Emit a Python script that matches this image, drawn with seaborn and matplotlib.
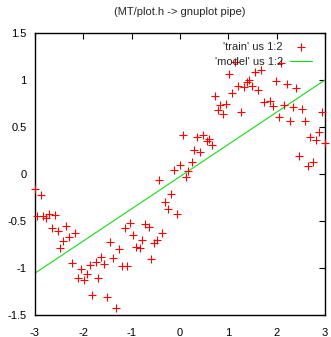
import matplotlib
matplotlib.use("Agg")
import matplotlib.pyplot as plt
import seaborn as sns
import pandas as pd

train_x = [-3.0, -2.882, -2.952, -2.828, -2.779, -2.704, -2.586, -2.642, -2.524, -2.352,
           -2.166, -2.290, -2.414, -2.477, -2.228, -2.048, -2.104, -1.986, -1.918, -1.862,
           -1.744, -1.634, -1.572, -1.690, -1.821, -1.504, -1.324, -1.448, -1.380, -1.262,
           -1.206, -1.097, -1.138, -1.028, -0.966, -0.724, -0.641, -0.780, -0.910, -0.834,
           -0.476, -0.538, -0.366, -0.600, -0.428, -0.180, -0.304, -0.242, -0.062, -0.124,
           0.0, 0.172, 0.124, 0.238, 0.290, 0.414, 0.056, 0.352, 0.476, 0.552,
           0.600, 0.662, 0.724, 0.776, 0.832, 0.896, 0.956, 1.086, 1.196, 1.018,
           1.138, 1.258, 1.320, 1.380, 1.432, 1.494, 1.548, 1.624, 1.682, 2.086,
           1.982, 2.214, 2.396, 1.738, 1.858, 1.920, 2.040, 2.148, 2.342, 2.514,
           2.280, 2.580, 2.948, 2.880, 2.694, 2.810, 3.0, 2.462, 2.642, 2.756]
train_y = [-0.160, -0.223, -0.444, -0.444, -0.465, -0.422, -0.439, -0.578, -0.610, -0.556,
           -0.628, -0.673, -0.716, -0.790, -0.944, -1.014, -1.110, -1.124, -1.061, -0.965,
           -0.936, -0.886, -0.957, -1.103, -1.284, -1.312, -1.426, -0.723, -0.894, -0.795,
           -0.982, -0.976, -0.574, -0.524, -0.649, -0.532, -0.564, -0.705, -0.777, -0.790,
           -0.702, -0.734, -0.628, -0.907, -0.067, -0.213, -0.301, -0.369, -0.426, 0.043,
           0.093, 0.032, -0.029, 0.128, 0.252, 0.237, 0.418, 0.390, 0.420, 0.351,
           0.370, 0.311, 0.835, 0.679, 0.732, 0.638, 0.745, 0.864, 0.936, 1.067,
           1.195, 0.662, 0.922, 0.976, 1.005, 0.931, 1.082, 0.891, 1.104, 1.176,
           0.993, 0.955, 0.912, 0.768, 0.779, 0.723, 0.609, 0.736, 0.713, 0.688,
           0.569, 0.569, 0.657, 0.450, 0.394, 0.359, 0.330, 0.194, 0.082, 0.128]

model_x = [-3.0, 3.0]
model_y = [-1.055, 1.0]

title = "(MT/plot.h -> gnuplot pipe)"
train_label = "'train' us 1:2"
model_label = "'model' us 1:2"
x_ticks = [-3, -2, -1, 0, 1, 2, 3]
y_ticks = [-1.5, -1, -0.5, 0, 0.5, 1, 1.5]
y_tick_labels = ["-1.5", "-1", "-0.5", "0", "0.5", "1", "1.5"]

sns.set_theme(style="white")
plt.rcParams['font.family'] = ['Liberation Sans', 'DejaVu Sans']

fig = plt.figure(figsize=(3.31, 3.37), dpi=100)
ax = fig.add_axes([35/331, 1 - 315/337, 290/331, 282/337])

train = pd.DataFrame({"x": train_x, "y": train_y})
model = pd.DataFrame({"x": model_x, "y": model_y})

sns.scatterplot(data=train, x="x", y="y", ax=ax, marker="+", color="#ff0000",
                s=30, linewidth=0.8, label=train_label, zorder=3, clip_on=False)
sns.lineplot(data=model, x="x", y="y", ax=ax, color="#11dd11", linewidth=0.8,
             label=model_label, zorder=2)

ax.set_xlim(-3, 3)
ax.set_ylim(-1.5, 1.5)
ax.set_xticks(x_ticks)
ax.set_xticklabels([str(t) for t in x_ticks])
ax.set_yticks(y_ticks)
ax.set_yticklabels(y_tick_labels)
ax.set_xlabel("")
ax.set_ylabel("")
ax.set_title(title, fontsize=8, pad=13)

for sp in ax.spines.values():
    sp.set_visible(True)
    sp.set_color("black")
    sp.set_linewidth(1.0)
ax.tick_params(direction="in", length=4, width=0.8, color="black",
               top=True, right=True, labelsize=8, labelcolor="black")
ax.tick_params(axis="x", pad=9)
ax.tick_params(axis="y", pad=6)

leg = ax.legend(loc="upper right", bbox_to_anchor=(0.985, 1.0), frameon=False,
                markerfirst=False, fontsize=8, handlelength=2.0, handletextpad=0.6,
                borderaxespad=0.5, labelspacing=0.45, borderpad=0.3)

fig.savefig("out.png", dpi=100)
